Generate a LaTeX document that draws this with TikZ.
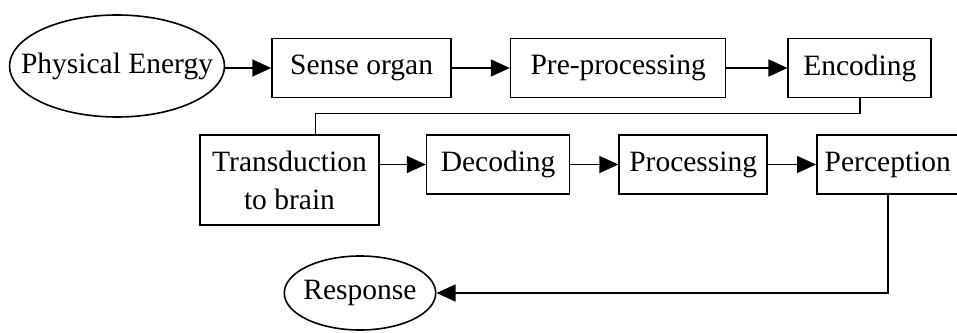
\documentclass[tikz,border=0pt]{standalone}
\usepackage{fontspec}
\setmainfont{Liberation Serif}
\usetikzlibrary{arrows.meta,positioning,shapes.geometric}
\tikzset{
  box/.style={rectangle,draw=black,fill=white,line width=1.6pt,minimum height=59pt,inner sep=2pt},
  oval/.style={ellipse,draw=black,fill=white,line width=1.6pt,inner sep=0pt}
}

\begin{document}
\begin{tikzpicture}[->,>={Triangle[length=19pt,width=17pt]},line width=1.5pt,
                    x=1pt,y=1pt,font=\fontsize{29.5}{38}\selectfont]
  \useasboundingbox (0,0) rectangle (957,332);

  % first row
  \node[oval,inner xsep=-20pt,minimum width=212pt,minimum height=102pt] (phys) at (117,266) {Physical Energy};
  \node[box,minimum width=179pt] (sense) [right=46pt of phys,yshift=-2pt] {Sense organ};
  \node[box,minimum width=215pt] (pre)   [right=58pt of sense]            {Pre-processing};
  \node[box,minimum width=143pt] (enc)   [right=61pt of pre]              {Encoding};

  % second row
  \node[box,minimum width=179pt,minimum height=90pt,align=center] (trans) at (289.5,152) {Transduction\\to brain};
  \node[box,minimum width=143pt] (dec)  [right=46pt of trans.north east,anchor=north west] {Decoding};
  \node[box,minimum width=148pt] (proc) [right=48pt of dec]  {Processing};
  \node[box,minimum width=142pt] (perc) [right=48pt of proc] {Perception};

  \node[oval,inner xsep=-3pt,minimum width=148pt,minimum height=74pt] (resp) at (360,39) {Response};

  \draw (phys.east |- sense.west) -- (sense.west);
  \draw (sense) -- (pre);
  \draw (pre) -- (enc);
  \draw[-] (enc.south) -- ++(0,-15) -| ([xshift=26pt]trans.north);
  \draw (trans.east |- dec.west) -- (dec.west);
  \draw (dec) -- (proc);
  \draw (proc) -- (perc);
  \draw (perc.south) |- (resp.east);
\end{tikzpicture}
\end{document}
